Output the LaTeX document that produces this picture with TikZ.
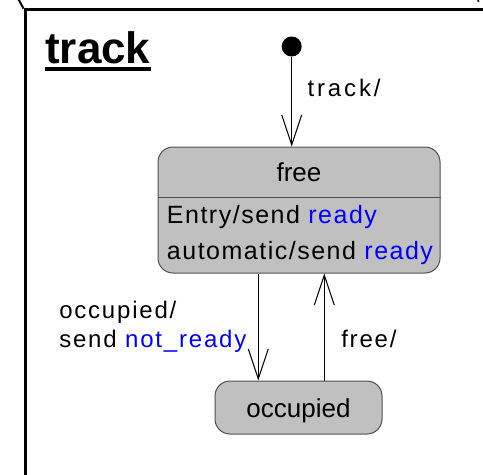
\documentclass[tikz,border=0pt]{standalone}
\usepackage{fontspec}
\setmainfont{Liberation Sans}
\newfontfamily\lblfont[LetterSpace=7.5]{Liberation Sans}
\newfontfamily\trkfont[LetterSpace=12]{Liberation Sans}
\newfontfamily\actfont[LetterSpace=6]{Liberation Sans}
\usetikzlibrary{arrows.meta}
\definecolor{stfill}{HTML}{C0C0C0}
\definecolor{stline}{HTML}{505050}
\definecolor{sigblue}{HTML}{0000FF}
\tikzset{
  stbox/.style={draw=stline, fill=stfill, rounded corners=11.25pt, line width=0.75pt, inner sep=0pt},
  trans/.style={line width=0.75pt, -{Straight Barb[length=22.5pt, width=15pt, line width=0.75pt]}},
  lbl/.style={anchor=base west, inner sep=0pt, font=\lblfont\fontsize{18}{21.6}\selectfont},
  act/.style={anchor=base west, inner sep=0pt, font=\actfont\fontsize{18.75}{22}\selectfont},
  stname/.style={anchor=base, inner sep=0pt, font=\fontsize{19.5}{23}\selectfont},
  frame/.style={line width=2.25pt, black}
}
\begin{document}
\begin{tikzpicture}[x=0.75pt, y=-0.75pt]
\useasboundingbox (0,0) rectangle (483,475);
% enclosing state frame
\draw[frame] (25,9) -- (25,480);
\draw[frame] (24,9) -- (486,9);
\draw[line width=1.5pt] (18.3,-1) -- (23.5,8.5);
\draw[line width=1.2pt] (478,-1) -- (478.5,2);
% title
\node[anchor=base west, inner sep=0pt, font=\bfseries\fontsize{33}{38}\selectfont] (title) at (45,63.3) {track};
\draw[line width=3pt] ([yshift=-4.3pt]title.base west) -- ([yshift=-4.3pt]title.base east);
% initial pseudo-state
\node[circle, fill=black, minimum size=15pt, inner sep=0pt] (init) at (291.7,46.5) {};
% states
\node[stbox, minimum width=211.5pt, minimum height=94.5pt] (free) at (299,210) {};
\draw[stline, line width=0.75pt] (free.west |- 0,197) -- (free.east |- 0,197);
\node[stname] (freename) at (299,181.7) {free};
\node[act] (entry) at (166.7,223) {Entry/send \textcolor{sigblue}{ready}};
\node[act] (auto) at (166.7,259) {automatic/send \textcolor{sigblue}{ready}};
\node[stbox, minimum width=125.25pt, minimum height=39.75pt] (occ) at (298.5,407.5) {};
\node[stname] (occname) at (298.5,417) {occupied};
% transitions
\draw[trans] (init) -- (init |- free.north);
\draw[trans] (258.3,0 |- free.south) -- (258.3,0 |- occ.north);
\draw[trans] (324.3,0 |- occ.north) -- (324.3,0 |- free.south);
% transition labels
\node[lbl, font=\trkfont\fontsize{18}{21.6}\selectfont] (ltrack) at (307.3,96) {track/};
\node[lbl] (locc1) at (59,318.3) {occupied/};
\node[lbl] (locc2) at (59,347) {send \textcolor{sigblue}{not\_ready}};
\node[lbl] (lfree) at (341,347) {free/};
\end{tikzpicture}
\end{document}
